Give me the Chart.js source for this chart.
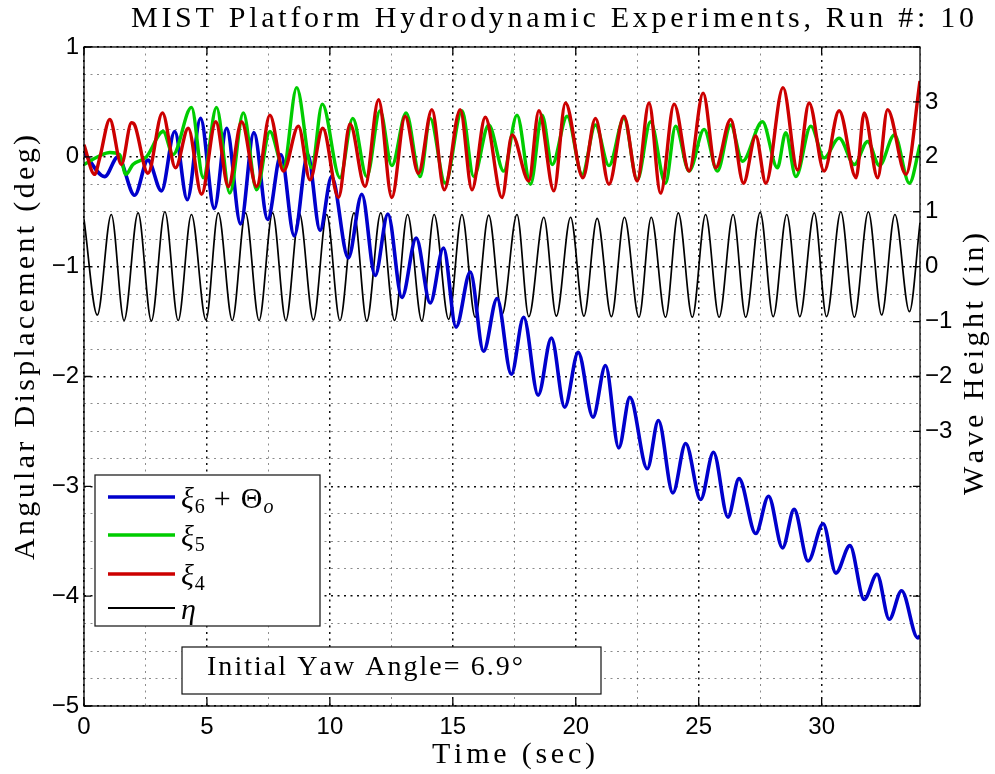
<!DOCTYPE html>
<html>
<head>
<meta charset="utf-8">
<title>MIST Platform Hydrodynamic Experiments, Run #: 10</title>
<script src="https://cdn.jsdelivr.net/npm/chart.js@4.4.1/dist/chart.umd.min.js"></script>
<style>
  html, body { margin: 0; padding: 0; background: #fff; }
</style>
</head>
<body>
<canvas id="chart" width="995" height="774"></canvas>
<script>
// [time (sec), value] turning points
// yaw xi6 + theta_o (deg, left axis)
const yawPts = [
  [0, 0.04], [0.84, -0.18], [1.38, 0.0], [2.06, -0.35], [2.6, -0.03], [3.15, -0.31],
  [3.69, 0.23], [4.2, -0.39], [4.74, 0.35], [5.3, -0.47], [5.8, 0.26], [6.37, -0.61],
  [6.91, 0.22], [7.47, -0.57], [8.01, 0.02], [8.55, -0.72], [9.1, 0.02], [9.6, -0.67],
  [10.07, -0.18], [10.75, -0.92], [11.3, -0.34], [11.84, -1.08], [12.36, -0.52], [12.93, -1.28],
  [13.51, -0.74], [14.08, -1.33], [14.62, -0.83], [15.13, -1.55], [15.71, -1.05], [16.25, -1.77],
  [16.8, -1.29], [17.38, -1.98], [17.88, -1.46], [18.47, -2.17], [19.01, -1.65], [19.55, -2.28],
  [20.1, -1.78], [20.7, -2.37], [21.21, -1.9], [21.75, -2.65], [22.2, -2.19], [22.91, -2.84],
  [23.36, -2.4], [23.95, -3.06], [24.47, -2.61], [25.08, -3.12], [25.6, -2.69], [26.19, -3.28],
  [26.64, -2.93], [27.32, -3.43], [27.84, -3.09], [28.41, -3.56], [28.88, -3.21], [29.45, -3.68],
  [30.06, -3.34], [30.58, -3.79], [31.15, -3.54], [31.73, -4.03], [32.25, -3.8], [32.75, -4.21],
  [33.25, -3.95], [33.91, -4.38], [34.0, -4.36]
];
// pitch xi5 (deg, left axis)
const pitchPts = [
  [0, -0.07], [0.64, 0.01], [1.05, 0.04], [1.45, 0.02], [1.7, -0.16], [1.99, -0.07],
  [2.54, 0.0], [3.22, 0.23], [3.62, 0.02], [4.37, 0.45], [4.85, -0.19], [5.39, 0.45],
  [5.93, -0.33], [6.48, 0.4], [7.02, -0.3], [7.56, 0.23], [8.11, -0.1], [8.65, 0.63],
  [9.26, -0.1], [9.69, 0.48], [10.41, -0.19], [10.93, 0.35], [11.5, -0.18], [12.04, 0.42],
  [12.52, -0.08], [13.1, 0.4], [13.67, -0.18], [14.08, 0.35], [14.69, -0.24], [15.37, 0.42],
  [15.85, -0.18], [16.46, 0.29], [17.07, -0.13], [17.61, 0.38], [18.16, -0.25], [18.63, 0.38],
  [19.04, -0.07], [19.65, 0.37], [20.26, -0.16], [20.8, 0.29], [21.35, -0.08], [21.96, 0.35],
  [22.5, -0.21], [23.04, 0.32], [23.65, -0.24], [24.06, 0.28], [24.61, -0.13], [25.22, 0.25],
  [25.76, -0.13], [26.3, 0.29], [26.78, -0.04], [27.59, 0.32], [28.2, -0.1], [28.54, 0.22],
  [28.95, -0.18], [29.56, 0.28], [30.1, -0.01], [30.71, 0.17], [31.33, -0.07], [31.87, 0.14],
  [32.35, -0.08], [32.96, 0.2], [33.57, -0.24], [34.0, 0.11]
];
// roll xi4 (deg, left axis)
const rollPts = [
  [0, 0.11], [0.43, -0.16], [0.64, -0.01], [1.05, 0.34], [1.52, -0.07], [1.93, 0.31],
  [2.06, 0.29], [2.6, -0.15], [3.19, 0.4], [3.72, -0.1], [4.24, 0.26], [4.78, -0.34],
  [5.36, 0.32], [5.87, -0.27], [6.41, 0.32], [7.02, -0.27], [7.56, 0.38], [8.11, -0.13],
  [8.72, 0.28], [9.19, -0.21], [9.71, 0.26], [10.35, -0.37], [10.82, 0.3], [11.43, -0.27],
  [11.98, 0.52], [12.52, -0.37], [13.06, 0.37], [13.6, -0.15], [14.15, 0.43], [14.65, -0.3],
  [15.3, 0.43], [15.78, -0.3], [16.32, 0.36], [17.0, -0.37], [17.41, 0.2], [18.09, -0.22],
  [18.5, 0.42], [19.11, -0.31], [19.58, 0.49], [20.29, -0.19], [20.8, 0.35], [21.35, -0.25],
  [21.96, 0.37], [22.5, -0.22], [22.98, 0.49], [23.45, -0.33], [24.0, 0.48], [24.61, -0.13],
  [25.18, 0.58], [25.69, -0.1], [26.3, 0.34], [26.82, -0.24], [27.32, 0.19], [27.73, -0.24],
  [28.43, 0.63], [29.02, -0.12], [29.49, 0.49], [30.1, -0.13], [30.71, 0.42], [31.4, -0.19],
  [31.73, 0.4], [32.28, -0.19], [32.68, 0.43], [33.43, -0.16], [34.0, 0.69]
];
// wave height eta (in, right axis)
const wavePts = [
  [0, 0.86], [0.54, -0.88], [1.11, 0.95], [1.63, -0.98], [2.2, 0.98], [2.74, -0.99],
  [3.29, 1.0], [3.83, -0.98], [4.37, 0.95], [4.96, -0.97], [5.46, 0.98], [6.03, -0.98],
  [6.57, 0.98], [7.12, -0.98], [7.67, 0.98], [8.21, -0.98], [8.76, 0.97], [9.33, -0.97],
  [9.87, 0.95], [10.41, -0.98], [10.98, 0.98], [11.5, -0.99], [12.07, 0.98], [12.63, -0.98],
  [13.16, 0.95], [13.74, -0.99], [14.24, 0.95], [14.83, -0.96], [15.37, 0.95], [15.91, -0.92],
  [16.46, 0.94], [17.0, -0.87], [17.61, 0.95], [18.09, -0.91], [18.7, 0.9], [19.21, -0.9],
  [19.79, 0.9], [20.33, -0.9], [20.87, 0.88], [21.45, -0.91], [21.98, 0.9], [22.57, -0.92],
  [23.07, 0.9], [23.65, -0.92], [24.17, 0.98], [24.74, -0.92], [25.28, 0.95], [25.83, -0.92],
  [26.4, 0.95], [26.91, -0.92], [27.5, 0.99], [28.03, -0.91], [28.58, 0.95], [29.11, -0.91],
  [29.7, 0.98], [30.2, -0.91], [30.78, 1.0], [31.33, -0.92], [31.9, 1.0], [32.44, -0.88],
  [32.98, 0.95], [33.57, -0.82], [34.0, 0.8]
];

const timeTicks = [0, 5, 10, 15, 20, 25, 30];
const degTicks = [-5, -4, -3, -2, -1, 0, 1];
const waveTicks = [-3, -2, -1, 0, 1, 2, 3];

const serif = '"Liberation Serif", "DejaVu Serif", serif';
const sans = '"Liberation Sans", Arial, sans-serif';

const fmt = v => (v < 0 ? '\u2212' + Math.abs(v) : String(Math.abs(v)));
const toXY = pts => pts.map(p => ({ x: p[0], y: p[1] }));
const gridCol = major => major ? 'rgba(0,0,0,0.95)' : 'rgba(0,0,0,0.45)';

// draw text letter by letter so it fills a given length (latex-ish spacing)
function spacedText(ctx, text, x, y, width, font, angle) {
  ctx.save();
  ctx.font = font;
  ctx.fillStyle = '#000';
  ctx.textAlign = 'left';
  ctx.textBaseline = 'alphabetic';
  ctx.translate(x, y);
  ctx.rotate(angle || 0);
  const chars = [...text];
  const plain = chars.reduce((s, c) => s + ctx.measureText(c).width, 0);
  const gap = (width - plain) / (chars.length - 1);
  let cx = 0;
  chars.forEach(c => {
    ctx.fillText(c, cx, 0);
    cx += ctx.measureText(c).width + gap;
  });
  ctx.restore();
}

// legend labels: pieces of [text, italic, subscript, gap before]
const legendLabels = [
  [['\u03BE', true, false, 0], ['6', false, true, 1], ['+', false, false, 9], ['\u0398', false, false, 10], ['o', true, true, 1]],
  [['\u03BE', true, false, 0], ['5', false, true, 1]],
  [['\u03BE', true, false, 0], ['4', false, true, 1]],
  [['\u03B7', true, false, 0]]
];

const matlabLook = {
  id: 'matlabLook',
  afterDatasetsDraw(chart) {
    const { ctx, chartArea: a, scales } = chart;
    ctx.save();
    ctx.strokeStyle = '#000';
    ctx.lineWidth = 1.3;
    ctx.strokeRect(a.left, a.top, a.right - a.left, a.bottom - a.top);
    const L = 7;
    ctx.beginPath();
    timeTicks.forEach(v => {
      const x = scales.x.getPixelForValue(v);
      ctx.moveTo(x, a.bottom); ctx.lineTo(x, a.bottom - L);
      ctx.moveTo(x, a.top); ctx.lineTo(x, a.top + L);
    });
    degTicks.forEach(v => {
      const y = scales.y.getPixelForValue(v);
      ctx.moveTo(a.left, y); ctx.lineTo(a.left + L, y);
      ctx.moveTo(a.right, y); ctx.lineTo(a.right - L, y);
    });
    waveTicks.forEach(v => {
      const y = scales.y2.getPixelForValue(v);
      ctx.moveTo(a.right, y); ctx.lineTo(a.right - L, y);
    });
    ctx.stroke();
    ctx.restore();
  },
  afterDraw(chart) {
    const ctx = chart.ctx;
    const sets = chart.data.datasets;

    // legend box
    ctx.save();
    ctx.fillStyle = '#fff';
    ctx.strokeStyle = '#222';
    ctx.lineWidth = 1.3;
    ctx.fillRect(95, 475, 225, 151);
    ctx.strokeRect(95, 475, 225, 151);
    const rowY = [497, 535, 574, 608];
    ['yaw', 'pitch', 'roll', 'wave'].forEach((key, i) => {
      const ds = sets.find(d => d.key === key);
      ctx.strokeStyle = ds.borderColor;
      ctx.lineWidth = key === 'wave' ? 2 : 3.5;
      ctx.beginPath();
      ctx.moveTo(108, rowY[i]);
      ctx.lineTo(175, rowY[i]);
      ctx.stroke();
      let x = 181;
      const base = rowY[i] + 11;
      ctx.fillStyle = '#000';
      legendLabels[i].forEach(([t, it, sub, gap]) => {
        x += gap;
        ctx.font = (it ? 'italic ' : '') + (sub ? '20px ' : '30px ') + serif;
        ctx.fillText(t, x, base + (sub ? 5 : 0));
        x += ctx.measureText(t).width;
      });
    });

    // initial yaw angle note
    ctx.fillStyle = '#fff';
    ctx.strokeStyle = '#111';
    ctx.lineWidth = 1.2;
    ctx.fillRect(182, 647, 419, 47);
    ctx.strokeRect(182, 647, 419, 47);
    ctx.restore();
    spacedText(ctx, 'Initial Yaw Angle= 6.9\u00B0', 207, 675, 316, '28px ' + serif);

    // titles
    spacedText(ctx, 'MIST Platform Hydrodynamic Experiments, Run #: 10', 131, 27, 843, '30px ' + serif);
    spacedText(ctx, 'Time (sec)', 432, 763, 163, '30px ' + serif);
    spacedText(ctx, 'Angular Displacement (deg)', 34, 560, 425, '30px ' + serif, -Math.PI / 2);
    spacedText(ctx, 'Wave Height (in)', 983, 495, 262, '30px ' + serif, -Math.PI / 2);
  }
};

const common = { pointRadius: 0, fill: false, cubicInterpolationMode: 'monotone' };

new Chart(document.getElementById('chart'), {
  type: 'line',
  data: {
    datasets: [
      { ...common, key: 'roll', label: '\u03BE4', data: toXY(rollPts), borderColor: 'rgb(204,0,0)', borderWidth: 3.4, yAxisID: 'y', order: 0 },
      { ...common, key: 'pitch', label: '\u03BE5', data: toXY(pitchPts), borderColor: 'rgb(0,204,0)', borderWidth: 3.4, yAxisID: 'y', order: 1 },
      { ...common, key: 'yaw', label: '\u03BE6 + \u0398o', data: toXY(yawPts), borderColor: 'rgb(0,0,204)', borderWidth: 3.6, yAxisID: 'y', order: 2 },
      { ...common, key: 'wave', label: '\u03B7', data: toXY(wavePts), borderColor: '#000', borderWidth: 1.7, yAxisID: 'y2', order: 3 }
    ]
  },
  options: {
    responsive: false,
    animation: false,
    devicePixelRatio: 1,
    layout: { padding: { top: 47, left: 0, right: 0, bottom: 0 } },
    plugins: { legend: { display: false }, tooltip: { enabled: false } },
    scales: {
      x: {
        type: 'linear', min: 0, max: 34,
        afterFit: s => { s.height = 68; },
        ticks: {
          stepSize: 2.5, autoSkip: false, maxRotation: 0, padding: 7, color: '#000',
          font: { family: sans, size: 24 },
          callback: v => timeTicks.includes(v) ? fmt(v) : ''
        },
        grid: {
          drawTicks: false,
          color: c => gridCol(timeTicks.includes(c.tick.value)),
          lineWidth: c => timeTicks.includes(c.tick.value) ? 1.5 : 1
        },
        border: { display: false, dash: [2, 4.5] }
      },
      y: {
        position: 'left', min: -5, max: 1,
        afterFit: s => { s.width = 84; },
        ticks: {
          stepSize: 0.25, autoSkip: false, padding: 5, color: '#000',
          font: { family: sans, size: 24 },
          callback: v => degTicks.includes(v) ? fmt(v) : ''
        },
        grid: {
          drawTicks: false,
          color: c => gridCol(degTicks.includes(c.tick.value)),
          lineWidth: c => degTicks.includes(c.tick.value) ? 1.5 : 1
        },
        border: { display: false, dash: [2, 4.5] }
      },
      y2: {
        position: 'right', min: -8, max: 4,
        afterFit: s => { s.width = 75; },
        afterBuildTicks: s => { s.ticks = waveTicks.map(v => ({ value: v })); },
        ticks: {
          autoSkip: false, padding: 5, color: '#000',
          font: { family: sans, size: 24 },
          callback: v => fmt(v)
        },
        grid: { drawOnChartArea: false, drawTicks: false },
        border: { display: false }
      }
    }
  },
  plugins: [matlabLook]
});
</script>
</body>
</html>
